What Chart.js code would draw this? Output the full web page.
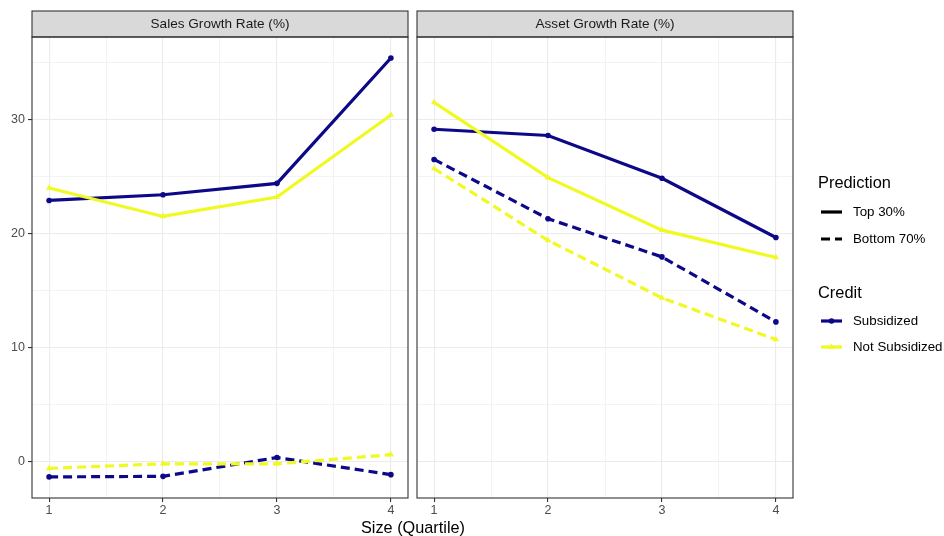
<!DOCTYPE html>
<html>
<head>
<meta charset="utf-8">
<script src="https://cdn.jsdelivr.net/npm/chart.js@4.4.1/dist/chart.umd.min.js"></script>
<style>
html, body { margin: 0; padding: 0; background: #fff; }
#wrap { position: relative; width: 944px; height: 536px; }
canvas { position: absolute; left: 0; top: 0; }
#xtitle { position: absolute; left: 0; width: 826px; top: 518px; line-height: 19px; text-align: center;
          font: 16.3px "Liberation Sans", Arial, sans-serif; color: #000; }
</style>
</head>
<body>
<div id="wrap">
  <canvas id="salesChart" width="944" height="536"></canvas>
  <canvas id="assetChart" width="944" height="536"></canvas>
  <div id="xtitle">Size (Quartile)</div>
</div>
<script>
const QUARTILES = [1, 2, 3, 4];
const X_MINOR = [1.5, 2.5, 3.5];
const Y_TICKS = [0, 10, 20, 30];
const Y_MINOR = [5, 15, 25, 35];

// Sales growth rate (%)
const salesTopSub    = [22.9, 23.4, 24.4, 35.4];
const salesTopNot    = [24.0, 21.5, 23.2, 30.4];
const salesBottomSub = [-1.35, -1.3, 0.35, -1.15];
const salesBottomNot = [-0.6, -0.2, -0.2, 0.6];

// Asset growth rate (%)
const assetTopSub    = [29.15, 28.6, 24.85, 19.65];
const assetTopNot    = [31.5, 24.9, 20.3, 17.9];
const assetBottomSub = [26.5, 21.3, 17.95, 12.25];
const assetBottomNot = [25.7, 19.4, 14.35, 10.7];

const NAVY   = '#0D0887';
const YELLOW = '#F0F921';
const FONT   = '"Liberation Sans", Arial, sans-serif';
const DASH   = [9, 5];

function series(values, color, dashed, pointStyle) {
    return {
        data: QUARTILES.map((q, i) => ({ x: q, y: values[i] })),
        borderColor: color,
        backgroundColor: color,
        borderWidth: 3.2,
        borderDash: dashed ? DASH : [],
        pointStyle: pointStyle,
        pointRadius: pointStyle === 'triangle' ? 3.6 : 2.8,
        pointBorderWidth: 0,
        tension: 0,
        fill: false
    };
}

function isMajor(list, v) { return list.includes(v); }

// strip header + panel border
const panelPlugin = {
    id: 'panel',
    afterDraw(chart, args, opts) {
        const { ctx, chartArea: a } = chart;
        ctx.save();
        ctx.fillStyle = '#D9D9D9';
        ctx.fillRect(a.left, 11, a.right - a.left, a.top - 11);
        ctx.strokeStyle = '#333333';
        ctx.lineWidth = 1.1;
        ctx.strokeRect(a.left, 11, a.right - a.left, a.top - 11);
        ctx.strokeRect(a.left, a.top, a.right - a.left, a.bottom - a.top);
        ctx.fillStyle = '#1A1A1A';
        ctx.font = '13.6px ' + FONT;
        ctx.textAlign = 'center';
        ctx.textBaseline = 'middle';
        ctx.fillText(opts.title, (a.left + a.right) / 2, 24.5);
        if (opts.legend) drawLegend(ctx);
        ctx.restore();
    }
};

function drawLegend(ctx) {
    ctx.textAlign = 'left';
    ctx.textBaseline = 'middle';
    ctx.fillStyle = '#000';
    ctx.font = '16.4px ' + FONT;
    ctx.fillText('Prediction', 818, 183);
    ctx.fillText('Credit', 818, 293);

    ctx.font = '13.3px ' + FONT;
    const rows = [
        { y: 212, label: 'Top 30%', color: '#000', dash: [] },
        { y: 239, label: 'Bottom 70%', color: '#000', dash: DASH },
        { y: 321, label: 'Subsidized', color: NAVY, dash: [], pt: 'circle' },
        { y: 347, label: 'Not Subsidized', color: YELLOW, dash: [], pt: 'triangle' }
    ];
    rows.forEach(r => {
        ctx.save();
        ctx.strokeStyle = r.color;
        ctx.lineWidth = 3.2;
        ctx.setLineDash(r.dash);
        ctx.beginPath();
        ctx.moveTo(821, r.y);
        ctx.lineTo(842, r.y);
        ctx.stroke();
        ctx.restore();
        if (r.pt) {
            ctx.fillStyle = r.color;
            Chart.helpers.drawPoint(ctx, { pointStyle: r.pt, radius: r.pt === 'triangle' ? 3.6 : 2.8, rotation: 0, borderWidth: 0 }, 831.5, r.y);
        }
        ctx.fillStyle = '#000';
        ctx.fillText(r.label, 853, r.y);
    });
}

function makePanel(id, title, data, left, showY, legend) {
    const el = document.getElementById(id);
    return new Chart(el, {
        type: 'line',
        data: {
            datasets: [
                series(data.botNot, YELLOW, true, 'triangle'),
                series(data.topNot, YELLOW, false, 'triangle'),
                series(data.botSub, NAVY, true, 'circle'),
                series(data.topSub, NAVY, false, 'circle')
            ]
        },
        options: {
            responsive: false,
            animation: false,
            events: [],
            layout: { padding: { left: showY ? 0 : left, right: showY ? 944 - 408 : 944 - 793, top: 37, bottom: 0 } },
            plugins: {
                legend: { display: false },
                tooltip: { enabled: false },
                panel: { title: title, legend: legend }
            },
            scales: {
                x: {
                    type: 'linear',
                    min: 0.85,
                    max: 4.15,
                    afterBuildTicks(scale) {
                        scale.ticks = QUARTILES.concat(X_MINOR).sort((a, b) => a - b).map(v => ({ value: v }));
                    },
                    afterFit(scale) { scale.height = 38; },
                    border: { display: false },
                    grid: {
                        color: '#EBEBEB',
                        lineWidth: c => isMajor(QUARTILES, c.tick.value) ? 1.1 : 0.6,
                        drawTicks: true,
                        tickLength: 4,
                        tickWidth: 1.1,
                        tickColor: c => isMajor(QUARTILES, c.tick.value) ? '#333333' : 'rgba(0,0,0,0)'
                    },
                    ticks: {
                        autoSkip: false,
                        maxRotation: 0,
                        padding: 1,
                        color: '#4D4D4D',
                        font: { family: FONT, size: 12.5 },
                        callback: v => isMajor(QUARTILES, v) ? String(v) : ''
                    }
                },
                y: {
                    type: 'linear',
                    min: -3.2,
                    max: 37.24,
                    afterBuildTicks(scale) {
                        scale.ticks = Y_TICKS.concat(Y_MINOR).sort((a, b) => a - b).map(v => ({ value: v }));
                    },
                    afterFit(scale) { scale.width = showY ? 32 : 0; },
                    border: { display: false },
                    grid: {
                        color: '#EBEBEB',
                        lineWidth: c => isMajor(Y_TICKS, c.tick.value) ? 1.1 : 0.6,
                        drawTicks: showY,
                        tickLength: 4,
                        tickWidth: 1.1,
                        tickColor: c => isMajor(Y_TICKS, c.tick.value) ? '#333333' : 'rgba(0,0,0,0)'
                    },
                    ticks: {
                        display: showY,
                        autoSkip: false,
                        padding: 3,
                        color: '#4D4D4D',
                        font: { family: FONT, size: 12.5 },
                        callback: v => isMajor(Y_TICKS, v) ? String(v) : ''
                    }
                }
            }
        },
        plugins: [panelPlugin]
    });
}

makePanel('salesChart', 'Sales Growth Rate (%)',
    { topSub: salesTopSub, topNot: salesTopNot, botSub: salesBottomSub, botNot: salesBottomNot },
    0, true, false);
makePanel('assetChart', 'Asset Growth Rate (%)',
    { topSub: assetTopSub, topNot: assetTopNot, botSub: assetBottomSub, botNot: assetBottomNot },
    417, false, true);
</script>
</body>
</html>
